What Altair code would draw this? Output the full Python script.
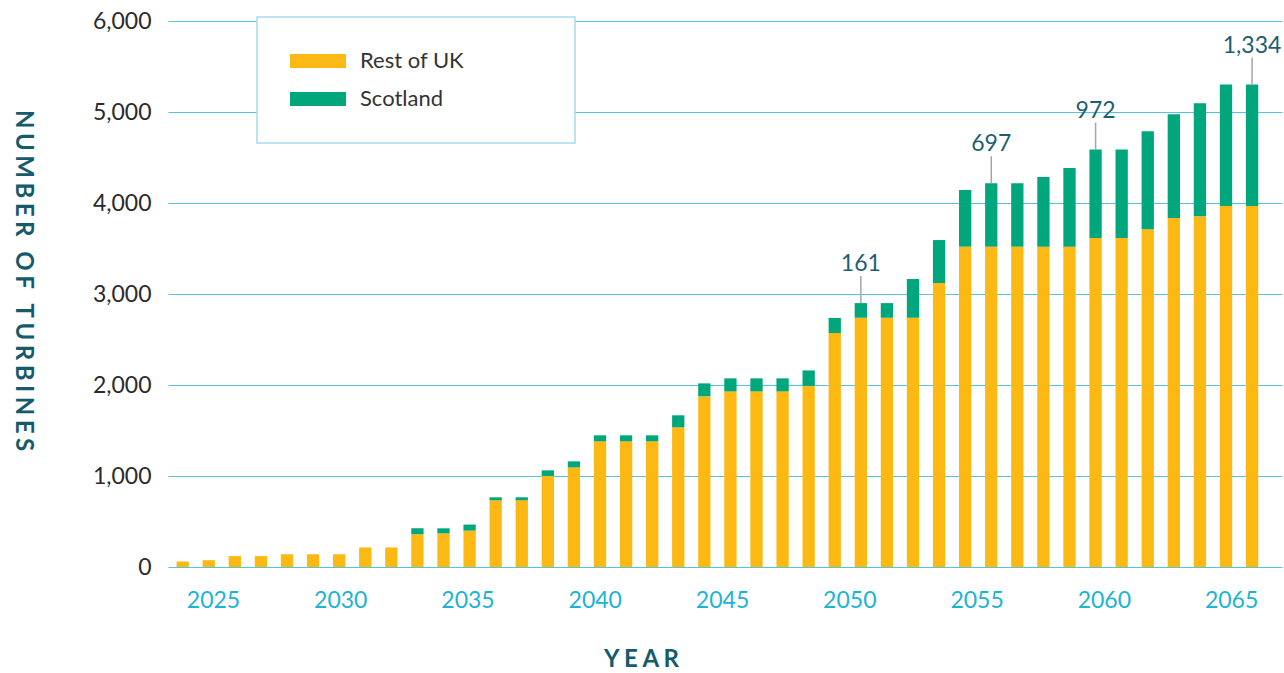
import altair as alt
import pandas as pd

# ---------------- data ----------------
years = list(range(2024, 2066))
rest_of_uk = [60, 75, 120, 120, 140, 140, 140, 215, 215, 360,
              370, 400, 733, 733, 1000, 1095, 1381, 1381, 1381, 1535,
              1875, 1930, 1930, 1930, 1990, 2571, 2739, 2739, 2739, 3121,
              3520, 3520, 3520, 3520, 3520, 3615, 3615, 3711, 3835, 3854,
              3967, 3967]
scotland = [0, 0, 0, 0, 0, 0, 0, 0, 0, 66,
            55, 66, 33, 33, 62, 66, 66, 66, 66, 132,
            143, 143, 143, 143, 170, 165, 161, 161, 426, 472,
            623, 697, 697, 766, 865, 972, 972, 1077, 1140, 1241,
            1334, 1334]
annotated_years = [2050, 2055, 2059, 2065]
x_tick_years = [2025, 2030, 2035, 2040, 2045, 2050, 2055, 2060, 2065]
y_ticks = [0, 1000, 2000, 3000, 4000, 5000, 6000]
series = ["Rest of UK", "Scotland"]
series_colors = ["#FDB913", "#00A77D"]

# ---------------- tables ----------------
wide = pd.DataFrame({"year": years, "Rest of UK": rest_of_uk, "Scotland": scotland})
wide["total"] = wide["Rest of UK"] + wide["Scotland"]
long = wide.melt(id_vars=["year"], value_vars=series, var_name="series", value_name="turbines")
long["order"] = long["series"].map({s: i for i, s in enumerate(series)})

ann = wide[wide["year"].isin(annotated_years)].copy()
ann["label"] = ann["Scotland"].map(lambda v: f"{v:,}")

ticks_df = pd.DataFrame({"year": x_tick_years})


def spaced(s, sp="\u2009\u200a"):
    return sp.join(s)


W, H = 1114, 546
FONT = "Lato"
TEAL_DARK = "#155B6C"
GRID = "#55C5DF"
Y_TITLE = spaced("NUMBER OF TURBINES")

band = alt.Scale(domain=years, paddingInner=0.528, paddingOuter=0.619, align=0.264)
yscale = alt.Scale(domain=[0, 6000], nice=False)
y_axis = alt.Axis(
    values=y_ticks, format=",.0f",
    title=Y_TITLE, titleAngle=90,
    titleX=-146, titleY=259, titleAlign="center", titleBaseline="middle",
    titleFont=FONT, titleFontWeight="bold", titleFontSize=24, titleColor=TEAL_DARK,
    labelFont=FONT, labelFontSize=23, labelColor="#2B2B2B", labelPadding=17,
    domain=False, ticks=False, grid=True, gridColor=GRID, gridWidth=1,
)

bars = alt.Chart(long).mark_bar().encode(
    x=alt.X("year:O", scale=band, axis=None),
    y=alt.Y("turbines:Q", stack="zero", scale=yscale, axis=y_axis, title=Y_TITLE),
    color=alt.Color(
        "series:N",
        scale=alt.Scale(domain=series, range=series_colors),
        legend=alt.Legend(
            title="\u00a0", titleOrient="right", titlePadding=78, titleFontSize=1,
            orient="none", legendX=89, legendY=-4,
            symbolType="M-4,-1H4V1H-4Z", symbolSize=196, symbolOffset=17,
            symbolStrokeWidth=0, symbolOpacity=1,
            labelOffset=31, labelFont=FONT, labelFontSize=22, labelColor="#333333",
            rowPadding=16, padding=33, fillColor="white",
            strokeColor="#A6DCEE",
        ),
    ),
    order=alt.Order("order:Q", sort="ascending"),
)

rules = alt.Chart(ann).mark_rule(color="#A3A7AB", strokeWidth=1.5, y2Offset=-27).encode(
    x=alt.X("year:O", scale=band, axis=None),
    y=alt.Y("total:Q", scale=yscale, axis=y_axis, title=Y_TITLE),
    y2="total:Q",
)

texts = alt.Chart(ann).mark_text(
    font=FONT, fontSize=23, color="#1D5F71", dy=-32, baseline="alphabetic"
).encode(
    x=alt.X("year:O", scale=band, axis=None),
    y=alt.Y("total:Q", scale=yscale, axis=y_axis, title=Y_TITLE),
    text="label:N",
)

xaxis_layer = alt.Chart(ticks_df).mark_point(opacity=0).encode(
    x=alt.X(
        "year:Q",
        scale=alt.Scale(domain=[2023.232, 2067.0], nice=False, zero=False),
        axis=alt.Axis(
            values=x_tick_years, format="d",
            title=spaced("YEAR"), titleX=473, titleY=92,
            titleAlign="center", titleBaseline="middle",
            titleFont=FONT, titleFontWeight="bold", titleFontSize=24, titleColor=TEAL_DARK,
            labelFont=FONT, labelFontSize=23, labelColor="#1BB4D4", labelPadding=22,
            labelFlush=False, ticks=False, domain=False, grid=False,
        ),
    ),
)

inner = alt.layer(bars, rules, texts)
chart = (
    alt.layer(inner, xaxis_layer)
    .resolve_scale(x="independent")
    .properties(
        width=W, height=H,
        padding={"left": 168, "top": 21, "right": 2, "bottom": 106},
        autosize=alt.AutoSizeParams(type="none"),
        background="white",
    )
    .configure(font=FONT)
    .configure_view(stroke=None)
    .configure_legend(strokeWidth=1.5)
)

chart.save("out.html", embed_options={"renderer": "svg", "actions": False})
